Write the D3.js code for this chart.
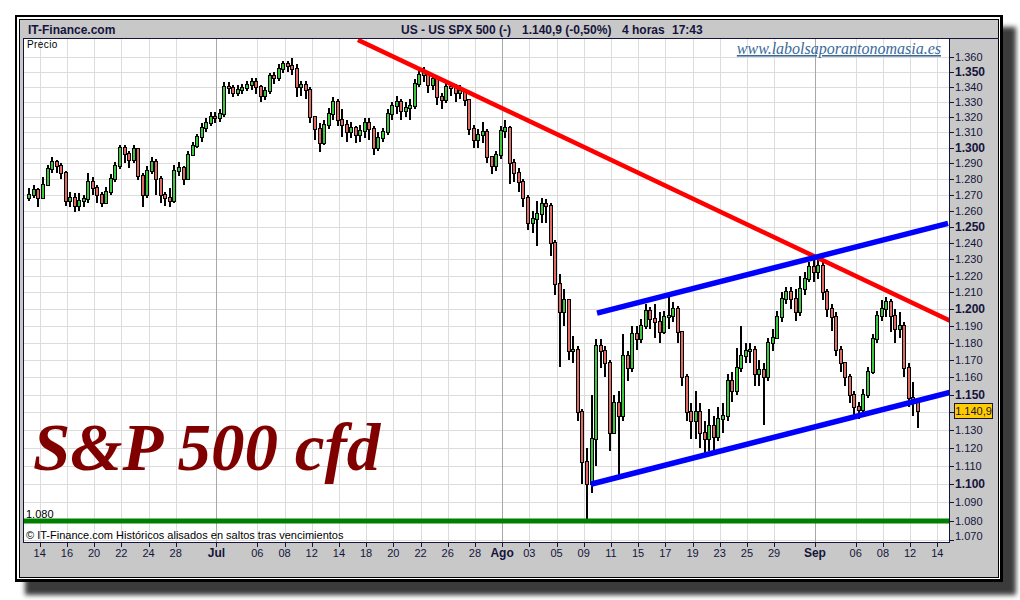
<!DOCTYPE html>
<html><head><meta charset="utf-8">
<script src="https://cdn.jsdelivr.net/npm/d3@7"></script>
<style>body{margin:0;background:#fff;} svg{display:block}</style>
</head><body><svg id="c" width="1020" height="600"></svg>
<script>
// ---------------- data ----------------
// 4-hour candles, 3 per trading day, day index 0 = 14 Jun (day -1 = 13 Jun)
const firstDay = -1;
const perDay = 3;
const firstOpen = 1268;
const closes = [
 1270,1273,1268, 1276,1286,1291, 1288,1284,1266, 1268,1263,1266, 1267,1278,1274,
 1270,1265,1272, 1280,1288,1300, 1296,1292,1299, 1282,1270,1285, 1291,1280,1270,
 1268,1266,1285, 1287,1280,1295, 1301,1307,1313, 1316,1320,1319, 1322,1340,1339,
 1336,1338,1339, 1341,1343,1340, 1334,1337,1347, 1346,1352,1355, 1354,1352,1340,
 1341,1338,1320, 1312,1303,1315, 1322,1330,1318, 1315,1310,1313, 1308,1311,1316,
 1312,1300,1306, 1310,1322,1327, 1330,1324,1326, 1327,1342,1348, 1349,1341,1345,
 1333,1331,1340, 1339,1336,1337, 1331,1312,1305, 1308,1310,1294, 1288,1295,1311,
 1313,1290,1284, 1278,1268,1252, 1255,1258,1264, 1263,1240,1215, 1198,1205,1175,
 1176,1140,1112, 1100,1125,1178, 1175,1168,1128, 1145,1138,1172, 1165,1185,1182,
 1190,1199,1194, 1192,1186,1195, 1196,1200,1186, 1160,1140,1135, 1140,1128,1125,
 1132,1126,1136, 1138,1158,1152, 1165,1172,1175, 1176,1162,1164, 1160,1180,1183,
 1195,1206,1210, 1206,1198,1212, 1218,1225,1222, 1226,1210,1200, 1195,1176,1168,
 1160,1150,1143, 1141,1150,1163, 1182,1196,1200, 1204,1196,1188, 1190,1165,1148,
 1145,1140.9
];
const highs = [
 1274,1276,1274, 1281,1289,1294, 1292,1290,1285, 1272,1271,1271, 1270,1284,1281,
 1276,1272,1275, 1283,1291,1302, 1302,1298,1302, 1300,1284,1288, 1294,1293,1282,
 1272,1274,1289, 1291,1288,1298, 1304,1309,1316, 1319,1323,1323, 1325,1343,1343,
 1341,1341,1342, 1344,1346,1346, 1341,1340,1349, 1350,1355,1357, 1357,1359,1355,
 1344,1344,1340, 1320,1316,1318, 1326,1333,1332, 1325,1318,1317, 1314,1315,1319,
 1319,1314,1310, 1313,1325,1330, 1334,1332,1330, 1332,1345,1351, 1353,1350,1348,
 1346,1336,1343, 1343,1342,1341, 1338,1332,1315, 1312,1317,1312, 1294,1298,1314,
 1318,1314,1293, 1287,1280,1270, 1260,1266,1268, 1267,1265,1242, 1221,1212,1206,
 1184,1178,1142, 1120,1150,1182, 1182,1178,1170, 1150,1152,1185, 1175,1190,1190,
 1194,1203,1201, 1203,1198,1199, 1207,1204,1202, 1182,1162,1145, 1152,1145,1135,
 1142,1138,1143, 1145,1162,1163, 1177,1190,1180, 1180,1178,1170, 1168,1183,1188,
 1199,1210,1213, 1213,1212,1220, 1222,1228,1231, 1231,1228,1212, 1203,1198,1178,
 1166,1162,1152, 1146,1153,1166, 1185,1199,1205, 1207,1206,1200, 1198,1192,1168,
 1157,1148
];
const lows = [
 1266,1268,1262, 1270,1276,1284, 1284,1280,1263, 1262,1259,1260, 1262,1265,1270,
 1265,1262,1264, 1270,1278,1286, 1290,1287,1290, 1279,1262,1268, 1283,1270,1265,
 1263,1262,1265, 1282,1276,1279, 1295,1300,1304, 1310,1314,1316, 1317,1320,1335,
 1333,1334,1335, 1337,1338,1335, 1330,1331,1335, 1342,1344,1349, 1350,1348,1333,
 1334,1332,1316, 1305,1297,1302, 1312,1318,1314, 1307,1304,1306, 1303,1304,1306,
 1305,1295,1298, 1304,1308,1318, 1322,1318,1320, 1318,1325,1340, 1343,1336,1338,
 1328,1325,1329, 1334,1330,1332, 1327,1308,1300, 1300,1303,1290, 1283,1285,1293,
 1306,1277,1278, 1272,1262,1248, 1246,1238,1252, 1252,1232,1208, 1166,1190,1170,
 1168,1135,1100, 1081,1095,1110, 1165,1160,1118, 1130,1105,1135, 1158,1163,1176,
 1180,1188,1188, 1183,1180,1185, 1188,1192,1180, 1155,1135,1125, 1125,1120,1116,
 1118,1117,1124, 1128,1135,1146, 1150,1163,1168, 1168,1155,1155, 1133,1158,1175,
 1182,1192,1203, 1200,1193,1196, 1208,1216,1216, 1218,1205,1195, 1187,1172,1163,
 1155,1145,1138, 1136,1137,1148, 1162,1180,1193, 1195,1186,1180, 1183,1160,1143,
 1138,1131
];
const tickDays   = [0,2,4,6,8,10,13,16,18,20,22,24,26,28,30,32,34,36,38,40,42,44,46,48,50,52,54,57,60,62,64,66];
const tickLabels = ["14","16","20","22","24","28","Jul","06","08","12","14","18","20","22","26","28","Ago","03","05","09","11","15","17","19","23","25","29","Sep","06","08","12","14"];
const monthLabels = ["Jul","Ago","Sep"];
const yTickValues = d3.range(1070, 1361, 10);
const resistanceLine = [[23.4, 1371.5], [66.93, 1193.0]];
const channelUpper   = [[40.98, 1197.5], [66.79, 1252.0]];
const channelLower   = [[40.51, 1099.9], [66.93, 1151.2]];
const supportLevel = 1080;
const lastValue = 1140.9;
const lastLabel = "1.140,9";
const headerParts = [["US - US SPX 500 (-)", 401], ["1.140,9 (-0,50%)", 522], ["4 horas", 622], ["17:43", 672]];

// ---------------- drawing ----------------
const svg = d3.select("#c");
const navy = "#14143c";
const P = {l:24, r:949, t:39, b:542};
const x = d3.scaleLinear().domain([0,66]).range([39.7, 937.3]);
const y = d3.scaleLog().domain([1080,1350]).range([521,71.7]);
const fmt = v => Math.floor(v/1000) + "." + String(Math.round(v%1000)).padStart(3,"0");

const defs = svg.append("defs");
defs.append("filter").attr("id","sh").attr("x","-5%").attr("y","-5%").attr("width","110%").attr("height","110%")
  .append("feGaussianBlur").attr("stdDeviation",2.5);
defs.append("clipPath").attr("id","clip").append("rect")
  .attr("x",P.l).attr("y",P.t).attr("width",P.r-P.l).attr("height",P.b-P.t);

// shadow + frame
svg.append("rect").attr("x",25).attr("y",27).attr("width",991).attr("height",568).attr("fill","#3a3a3a").attr("filter","url(#sh)");
svg.append("rect").attr("x",15).attr("y",15).attr("width",988).attr("height",567).attr("fill","#000");
svg.append("rect").attr("x",17).attr("y",17).attr("width",983).attr("height",562).attr("fill","#fff");
svg.append("rect").attr("x",19).attr("y",19).attr("width",980).attr("height",559).attr("fill","#000");
svg.append("rect").attr("x",20).attr("y",20).attr("width",978).attr("height",557).attr("fill","#c8c8c8");

// plot background
svg.append("rect").attr("x",P.l).attr("y",P.t).attr("width",P.r-P.l).attr("height",P.b-P.t).attr("fill","#fff");

// grid
const grid = svg.append("g").attr("shape-rendering","crispEdges").attr("clip-path","url(#clip)");
grid.selectAll("line.h").data(yTickValues).join("line")
  .attr("x1",P.l).attr("x2",P.r).attr("y1",d=>Math.round(y(d))+0.5).attr("y2",d=>Math.round(y(d))+0.5)
  .attr("stroke","#dcdcdc");
grid.selectAll("line.v").data(tickDays).join("line")
  .attr("y1",P.t).attr("y2",P.b).attr("x1",d=>Math.round(x(d))+0.5).attr("x2",d=>Math.round(x(d))+0.5)
  .attr("stroke",(d,i)=>monthLabels.includes(tickLabels[i]) ? "#a8a8a8" : "#dcdcdc");

// header
svg.append("line").attr("x1",23).attr("x2",999).attr("y1",38.5).attr("y2",38.5).attr("stroke",navy);
svg.append("text").attr("x",28).attr("y",34).text("IT-Finance.com")
  .attr("font-family","Liberation Sans, Arial").attr("font-weight","bold").attr("font-size",12).attr("fill",navy);
svg.selectAll("text.hp").data(headerParts).join("text").attr("class","hp")
  .attr("x",d=>d[1]).attr("y",34).text(d=>d[0])
  .attr("font-family","Liberation Sans, Arial").attr("font-weight","bold").attr("font-size",12).attr("fill",navy);

// labels inside plot
svg.append("text").attr("x",27).attr("y",48).text("Precio")
  .attr("font-family","Liberation Sans, Arial").attr("font-size",10).attr("fill","#000").attr("letter-spacing",0.4);
svg.append("text").attr("x",941).attr("y",54).attr("text-anchor","end").text("www.labolsaporantonomasia.es")
  .attr("font-family","Liberation Serif, Times New Roman").attr("font-style","italic").attr("font-size",16)
  .attr("fill","#3a6a9a").attr("text-decoration","underline");
svg.append("text").attr("x",33).attr("y",470).text("S&P 500 cfd")
  .attr("font-family","Liberation Serif, Times New Roman").attr("font-style","italic").attr("font-weight","bold")
  .attr("font-size",67).attr("fill","#800000");

// support line
const lines = svg.append("g").attr("clip-path","url(#clip)");
lines.append("line").attr("x1",P.l).attr("x2",P.r).attr("y1",y(supportLevel)).attr("y2",y(supportLevel))
  .attr("stroke","#008000").attr("stroke-width",5);
svg.append("text").attr("x",26).attr("y",518).text(fmt(supportLevel))
  .attr("font-family","Liberation Sans, Arial").attr("font-size",11).attr("fill","#000");
svg.append("text").attr("x",26).attr("y",539).text("© IT-Finance.com  Históricos alisados en saltos tras vencimientos")
  .attr("font-family","Liberation Sans, Arial").attr("font-size",11).attr("fill","#000");

// candles
const candles = closes.map((c,i)=>{
  const o = i ? closes[i-1] : firstOpen;
  return {d: firstDay + (i+0.5)/perDay, o, c,
          h: Math.max(highs[i], o, c), l: Math.min(lows[i], o, c)};
});
const cg = svg.append("g").attr("shape-rendering","crispEdges").attr("clip-path","url(#clip)");
const cand = cg.selectAll("g").data(candles).join("g");
cand.append("rect").attr("x",d=>Math.round(x(d.d))).attr("width",2)
  .attr("y",d=>Math.round(y(d.h))).attr("height",d=>Math.max(1,Math.round(y(d.l))-Math.round(y(d.h))))
  .attr("fill","#000");
cand.append("rect").attr("x",d=>Math.round(x(d.d))-1).attr("width",4)
  .attr("y",d=>Math.round(y(Math.max(d.o,d.c)))-1)
  .attr("height",d=>Math.round(y(Math.min(d.o,d.c)))-Math.round(y(Math.max(d.o,d.c)))+2)
  .attr("fill","#000");
cand.append("rect").attr("x",d=>Math.round(x(d.d))).attr("width",2)
  .attr("y",d=>Math.round(y(Math.max(d.o,d.c))))
  .attr("height",d=>Math.max(0,Math.round(y(Math.min(d.o,d.c)))-Math.round(y(Math.max(d.o,d.c)))))
  .attr("fill",d=>d.c>=d.o ? "#3cc83c" : "#e06a64");

// trend lines
const seg = pts => "M" + pts.map(p=>[x(p[0]), y(p[1])].join(",")).join("L");
lines.raise();
lines.append("path").attr("d",seg(resistanceLine)).attr("stroke","#ff0000").attr("stroke-width",4.5).attr("fill","none");
lines.append("path").attr("d",seg(channelUpper)).attr("stroke","#0000ff").attr("stroke-width",5.5).attr("fill","none");
lines.append("path").attr("d",seg(channelLower)).attr("stroke","#0000ff").attr("stroke-width",5.5).attr("fill","none");

// axes frame
const ax = svg.append("g").attr("shape-rendering","crispEdges");
ax.append("line").attr("x1",23.5).attr("x2",23.5).attr("y1",38).attr("y2",P.b+1).attr("stroke",navy);
ax.append("line").attr("x1",23).attr("x2",P.r+1).attr("y1",P.b+0.5).attr("y2",P.b+0.5).attr("stroke",navy);
ax.append("line").attr("x1",P.r+0.5).attr("x2",P.r+0.5).attr("y1",38).attr("y2",P.b+1).attr("stroke",navy);

// y axis ticks & labels (the label under the last-value box is hidden by it)
const ly = y(lastValue);
ax.selectAll("line.yt").data(yTickValues).join("line")
  .attr("x1",P.r).attr("x2",P.r+5).attr("y1",d=>Math.round(y(d))+0.5).attr("y2",d=>Math.round(y(d))+0.5).attr("stroke",navy);
svg.selectAll("text.yl").data(yTickValues.filter(v=>Math.abs(y(v)-ly)>9)).join("text").attr("class","yl")
  .attr("x",P.r+6).attr("y",d=>Math.min(y(d),536)).attr("dy","0.36em").text(fmt)
  .attr("font-family","Liberation Sans, Arial")
  .attr("font-size",d=>d%50===0?12:11).attr("font-weight",d=>d%50===0?"bold":"normal")
  .attr("fill",navy);

// x axis ticks & labels
ax.selectAll("line.xt").data(tickDays).join("line")
  .attr("x1",d=>Math.round(x(d))+0.5).attr("x2",d=>Math.round(x(d))+0.5).attr("y1",P.b).attr("y2",P.b+5).attr("stroke",navy);
svg.selectAll("text.xl").data(tickDays).join("text").attr("class","xl")
  .attr("x",d=>x(d)).attr("y",557).attr("text-anchor","middle").text((d,i)=>tickLabels[i])
  .attr("font-family","Liberation Sans, Arial").attr("font-size",(d,i)=>monthLabels.includes(tickLabels[i])?12:11)
  .attr("font-weight",(d,i)=>monthLabels.includes(tickLabels[i])?"bold":"normal").attr("fill",navy);

// last value box
svg.append("rect").attr("x",954.5).attr("y",Math.round(ly)-7.5).attr("width",38).attr("height",15)
  .attr("fill","#ffcc00").attr("stroke",navy).attr("shape-rendering","crispEdges");
svg.append("text").attr("x",973.5).attr("y",ly).attr("dy","0.36em").attr("text-anchor","middle").text(lastLabel)
  .attr("font-family","Liberation Sans, Arial").attr("font-size",11).attr("fill",navy);
</script></body></html>
